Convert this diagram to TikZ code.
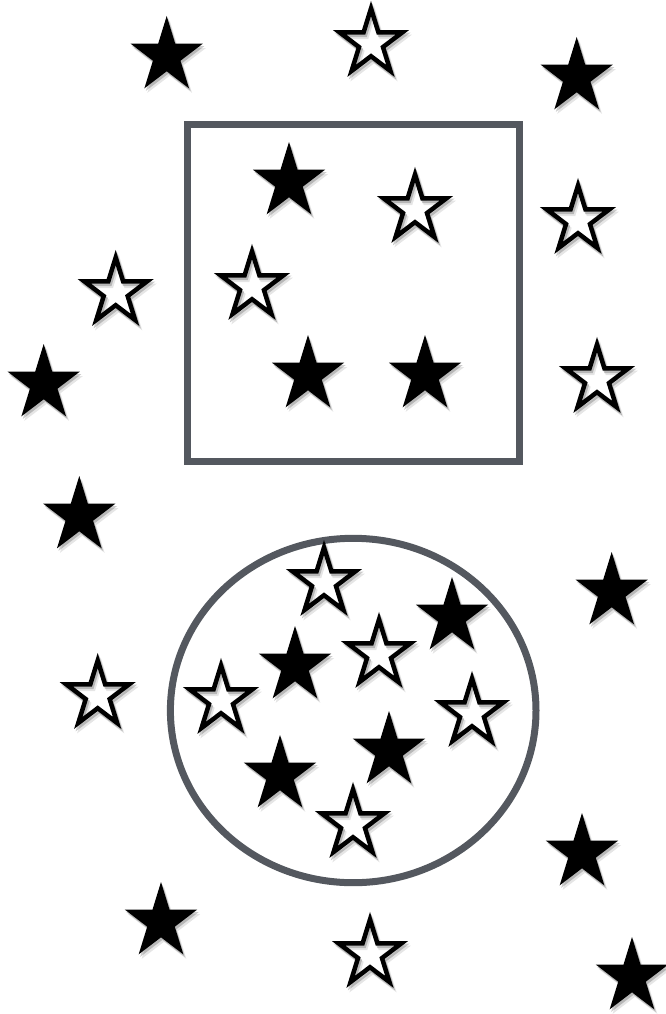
\documentclass[tikz,border=0pt]{standalone}
\definecolor{framegray}{RGB}{84,88,95}
% star outline: outer x/y radius, inner x/y radius (y axis flipped, so angles negated)
\newcommand\starpath[4]{(-90:#1 and #2) -- (-126:#3 and #4) -- (-162:#1 and #2) -- (-198:#3 and #4) -- (-234:#1 and #2) -- (-270:#3 and #4) -- (-306:#1 and #2) -- (-342:#3 and #4) -- (-18:#1 and #2) -- (-54:#3 and #4) -- cycle}
\tikzset{
  boxframe/.style={draw=framegray, line width=7pt},
  filledstar/.style={fill=black},
  openstar/.style={draw=black, line width=4.5pt, line join=miter, miter limit=10},
  shadowA/.style={black, opacity=.20},
  shadowB/.style={black, opacity=.10},
}
\begin{document}
\begin{tikzpicture}[x=1pt,y=-1pt]
\useasboundingbox (0,0) rectangle (666,1014);
\fill[white] (0,0) rectangle (666,1014);
\clip (0,0) rectangle (666,1014);
% frames
\draw[boxframe] (187,124.3) rectangle (519.3,461.7);
\draw[boxframe] (353.2,710.5) ellipse [x radius=182.8, y radius=172.2];
% filled stars
\foreach \x/\y in {166.7/56, 576.7/77, 289/182, 308/375, 425/375, 43.7/384,
  79.3/516, 611.7/592, 452/617, 295/666, 389/751, 280/775, 582/853, 161/922, 632/977}{
  \begin{scope}[shift={(\x,\y)}]
    \fill[shadowB] [shift={(3,4.5)}] \starpath{38}{40}{14.5}{15.3};
    \fill[shadowA] [shift={(1.5,2.5)}] \starpath{38}{40}{14.5}{15.3};
    \fill[filledstar] \starpath{38}{40}{14.5}{15.3};
  \end{scope}
}
% open stars
\foreach \x/\y in {371/43, 415/209, 252/286, 578/220, 115.7/292, 597/379,
  97.7/695, 324/582, 379/654, 221/700, 472/713, 353/824, 370/954}{
  \begin{scope}[shift={(\x,\y)}]
    \fill[white] \starpath{33}{34.5}{12.6}{13.2};
    \draw[shadowB, line width=4.5pt] [shift={(3,4.5)}] \starpath{33}{34.5}{12.6}{13.2};
    \draw[shadowA, line width=4.5pt] [shift={(1.5,2.5)}] \starpath{33}{34.5}{12.6}{13.2};
    \draw[openstar] \starpath{33}{34.5}{12.6}{13.2};
  \end{scope}
}
\end{tikzpicture}
\end{document}
